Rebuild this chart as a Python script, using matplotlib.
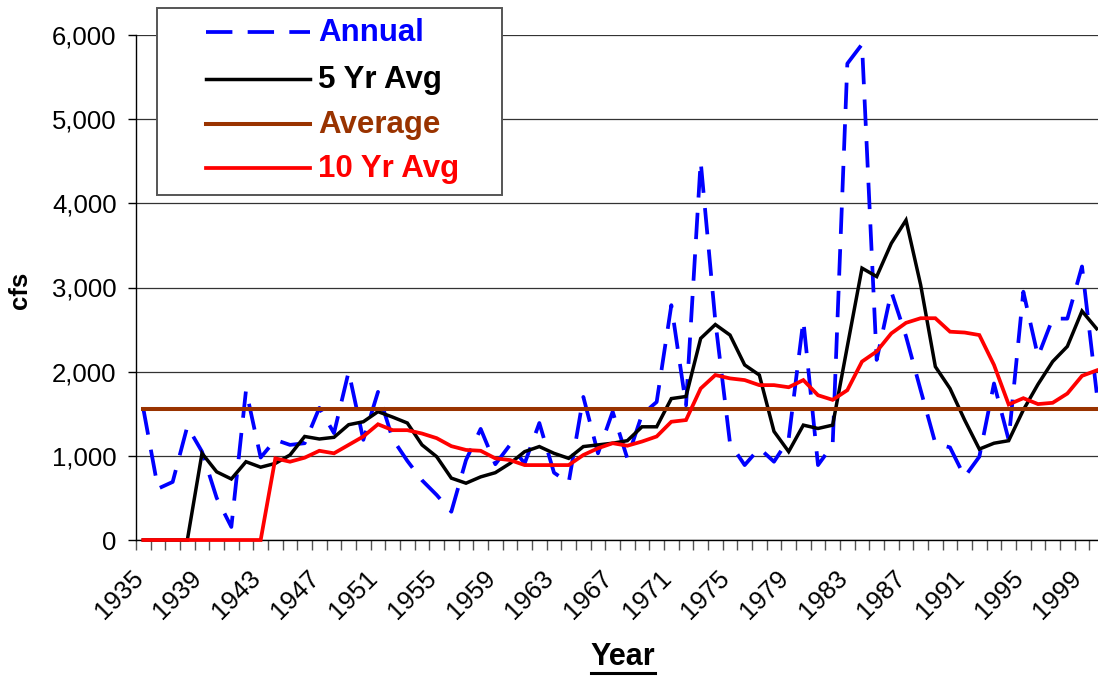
import numpy as np
import matplotlib
matplotlib.use('Agg')
import matplotlib.pyplot as plt
from matplotlib.lines import Line2D
from matplotlib.patches import Rectangle
from matplotlib.transforms import ScaledTranslation

plt.rcParams['font.family'] = ['Liberation Sans', 'DejaVu Sans']
plt.rcParams['lines.scale_dashes'] = False

years = list(range(1935, 2001))

# annual flow, cfs
annual = [1560, 610, 690, 1350, 1050, 500, 155, 1780, 980, 1190,
          1130, 1150, 1570, 1270, 2000, 1190, 1760, 1200, 940, 710,
          535, 336, 950, 1320, 900, 1130, 910, 1390, 800, 680,
          1700, 1030, 1525, 970, 1490, 1640, 2790, 1600, 4500, 2600,
          1150, 890, 1090, 930, 1200, 2610, 890, 1130, 5660, 5890,
          2140, 2950, 2420, 1780, 1150, 1100, 750, 990, 1860, 1190,
          2950, 2180, 2630, 2630, 3250, 1750]

# 5 year running average (blank years plotted as 0)
avg5 = [0, 0, 0, 0, 1030, 810, 725, 930, 865, 910,
        1010, 1230, 1200, 1220, 1370, 1405, 1525, 1460, 1390, 1130,
        990, 735, 675, 750, 800, 910, 1050, 1110, 1030, 970,
        1110, 1130, 1150, 1180, 1345, 1345, 1680, 1705, 2395, 2560,
        2435, 2080, 1960, 1290, 1050, 1365, 1325, 1365, 2300, 3230,
        3130, 3525, 3800, 3030, 2060, 1800, 1425, 1080, 1150, 1180,
        1545, 1850, 2120, 2300, 2720, 2510]

# 10 year running average
avg10 = [0, 0, 0, 0, 0, 0, 0, 0, 0, 970,
         930, 978, 1060, 1030, 1130, 1230, 1375, 1305, 1305, 1265,
         1210, 1115, 1070, 1060, 970, 950, 890, 890, 890, 890,
         1010, 1090, 1150, 1120, 1170, 1230, 1405, 1425, 1800, 1960,
         1920, 1900, 1840, 1840, 1815, 1900, 1720, 1665, 1780, 2120,
         2240, 2455, 2580, 2635, 2635, 2475, 2465, 2435, 2080, 1610,
         1685, 1615, 1630, 1740, 1950, 2015]

long_term_avg = 1560

W, H = 1098, 677

def px(x, y):
    return x / W, 1 - y / H

fig = plt.figure(figsize=(W / 100, H / 100), dpi=100)
ax = fig.add_axes([136 / W, 1 - 540 / H, 968 / W, 505 / H])

x = np.arange(len(years))
series = [
    ('Annual', annual, dict(color='#0000ff', lw=2.7, dashes=(19, 11))),
    ('5 Yr Avg', avg5, dict(color='black', lw=2.5)),
    ('Average', np.full(len(years), long_term_avg), dict(color='#993300', lw=2.9)),
    ('10 Yr Avg', avg10, dict(color='#ff0000', lw=2.7)),
]
for k, (name, vals, st) in enumerate(series):
    ax.plot(x, vals, clip_on=False, zorder=3 + k, solid_joinstyle='miter', **st)

ax.set_xlim(-0.5, len(years) - 0.5)
ax.set_ylim(0, 6000)
ax.set_yticks(range(0, 6001, 1000))
ax.set_yticklabels([f'{v:,}' for v in range(0, 6001, 1000)], fontsize=18.5)
ax.yaxis.grid(True, color='#333333', lw=0.9)
ax.set_axisbelow(True)
ax.tick_params(axis='y', length=6, width=1, pad=8)

for s in ['top', 'right']:
    ax.spines[s].set_visible(False)
ax.spines['left'].set_linewidth(1)
ax.spines['bottom'].set_linewidth(1)

# tick marks sit between categories, labels every 4th year
ax.set_xticks(np.arange(-0.5, len(years)), minor=True)
ax.set_xticks(x[::4])
ax.set_xticklabels([str(y) for y in years[::4]], fontsize=18.5, rotation=45,
                   ha='right', va='center', rotation_mode='anchor')
ax.tick_params(axis='x', which='major', length=0, pad=25)
ax.tick_params(axis='x', which='minor', length=7, width=1, color='#555555')
shift = ScaledTranslation(-4 / 100, 0, fig.dpi_scale_trans)
for lab in ax.get_xticklabels():
    lab.set_transform(lab.get_transform() + shift)

fig.text(*px(20, 290), 'cfs', rotation=90, ha='center', va='center',
         fontsize=18.5, fontweight='bold')
year_lbl = fig.text(*px(623, 657), 'Year', ha='center', va='center',
                    fontsize=22, fontweight='bold')

# legend box
x0, y0 = px(157, 195)
x1, y1 = px(502, 8)
fig.add_artist(Rectangle((x0, y0), x1 - x0, y1 - y0, transform=fig.transFigure,
                         facecolor='white', edgecolor='#555555', lw=1.4, zorder=10))
row_y = [32, 79, 124, 168]
for (name, vals, st), ry in zip(series, row_y):
    lx0, ly = px(206, ry)
    lx1, _ = px(310, ry)
    fig.add_artist(Line2D([lx0, lx1], [ly, ly], transform=fig.transFigure,
                          zorder=11, **st))
    fig.text(*px(318, ry + 1), name, color=st['color'], fontsize=22.5,
             fontweight='bold', va='center', ha='left', zorder=11)

# underline the axis title
fig.canvas.draw()
bb = year_lbl.get_window_extent()
uy = 1 - 673 / H
fig.add_artist(Line2D([bb.x0 / W, bb.x1 / W], [uy, uy], transform=fig.transFigure,
                      color='black', lw=2.2))

fig.savefig('out.png', dpi=100)
